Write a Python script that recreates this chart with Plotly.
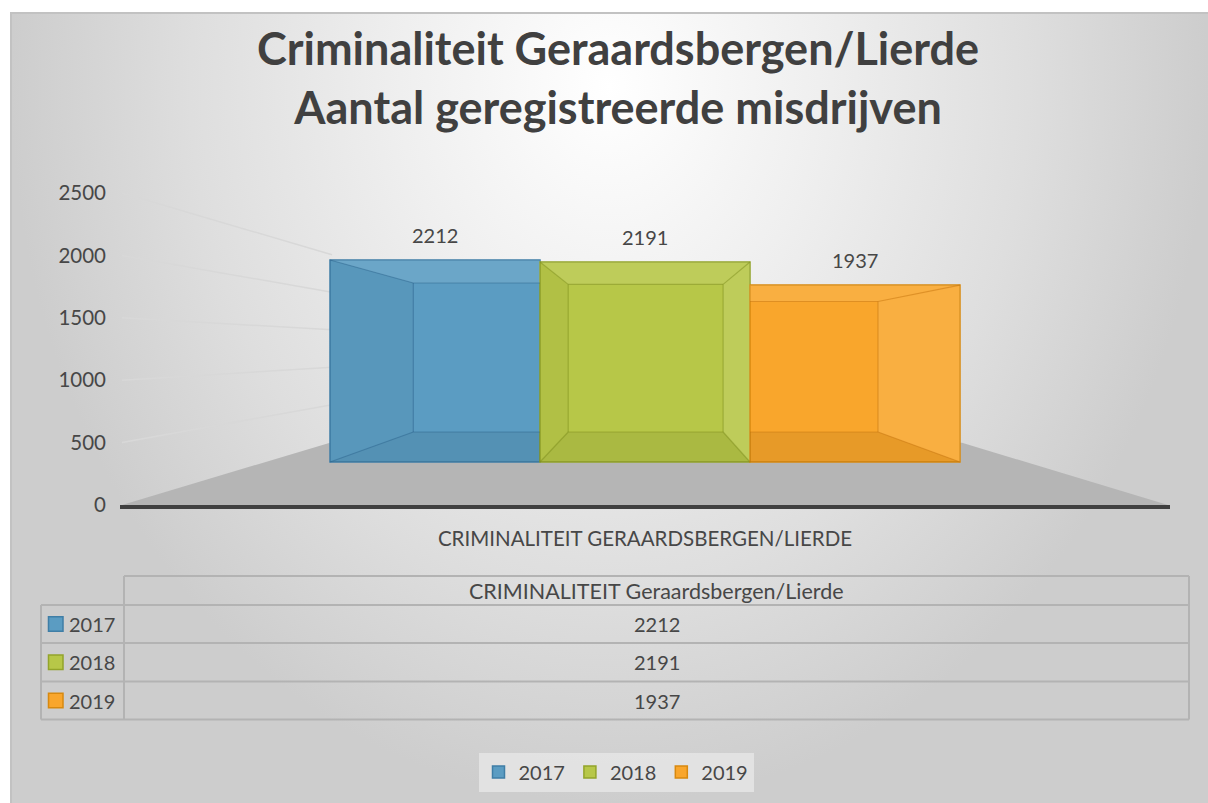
import plotly.graph_objects as go

# ---------------- data ----------------
categories = ["CRIMINALITEIT GERAARDSBERGEN/LIERDE"]
table_header = "CRIMINALITEIT Geraardsbergen/Lierde"
series_names = ["2017", "2018", "2019"]
values_2017 = [2212]
values_2018 = [2191]
values_2019 = [1937]
y_tick_values = [0, 500, 1000, 1500, 2000, 2500]
title_lines = ["Criminaliteit Geraardsbergen/Lierde", "Aantal geregistreerde misdrijven"]

series_values = [values_2017, values_2018, values_2019]

# ---------------- styles / layout constants ----------------
W, H = 1208, 803
FONT = "Lato"
TXT = "#474747"
fills = ["#5b9cc2", "#b7c748", "#f9a62c"]
edges = ["#3f7ea6", "#93a42a", "#d8890f"]
edge_rgb = [(40, 95, 135), (120, 135, 25), (190, 110, 10)]

PLOT_L, PLOT_R = 120, 1170          # plot area in pixels
PLOT_T, PLOT_B = 160, 505
TICK_PPU = (PLOT_B - 193) / 2500.0   # pixels per unit on the visible value axis
BAR_BASE_PX = 462.0                  # front face base of the 3-D columns
BAR_PPU = 0.09132                    # pixels per unit on the column front face
VP_X, VP_Y = 647.5, 347.6            # vanishing point
DEPTH = 0.7376                       # back/front scale of the columns
FLOOR_BACK_PX = 442.7
BARGAP = 0.4

def px_to_paper_x(px):
    return px / W

def px_to_paper_y(py):
    return 1 - py / H

fig = go.Figure()

# ---------- background subplot (pixel space) ----------
CH_L, CH_T = 11, 13
bg_top = -630
fig.add_trace(go.Scatter(
    x=[CH_L, W, W, CH_L, CH_L], y=[bg_top, bg_top, H, H, bg_top],
    mode="lines", fill="toself", line=dict(width=0),
    fillgradient=dict(type="radial",
                      colorscale=[[0, "#ffffff"], [0.35, "#efefef"], [0.7, "#dedede"],
                                  [1, "#cdcdcd"]]),
    xaxis="x", yaxis="y", hoverinfo="skip", showlegend=False))

def toward_vp(x0, y0, x_target=None, y_target=None):
    if x_target is not None:
        t = (x_target - x0) / (VP_X - x0)
    else:
        t = (y_target - y0) / (VP_Y - y0)
    return x0 + t * (VP_X - x0), y0 + t * (VP_Y - y0)

AX_L, AX_R = PLOT_L + 2, PLOT_R - 2
fl = toward_vp(AX_L, PLOT_B, y_target=FLOOR_BACK_PX)
fr = toward_vp(AX_R, PLOT_B, y_target=FLOOR_BACK_PX)
fig.add_trace(go.Scatter(
    x=[AX_L, fl[0], fr[0], AX_R, AX_L], y=[PLOT_B, fl[1], fr[1], PLOT_B, PLOT_B],
    mode="lines", fill="toself", fillcolor="#b5b5b5", line=dict(width=0),
    xaxis="x", yaxis="y", hoverinfo="skip", showlegend=False))

# perspective gridlines on the left wall
gx, gy = [], []
front_left_px = PLOT_L + (BARGAP / 2) * (PLOT_R - PLOT_L)
for v in y_tick_values[1:]:
    py = PLOT_B - v * TICK_PPU
    ex, ey = toward_vp(AX_L, py, x_target=front_left_px + 2)
    gx += [AX_L, ex, None]
    gy += [py, ey, None]
fig.add_trace(go.Scatter(x=gx, y=gy, mode="lines", line=dict(color="#d8d8d8", width=1.5),
                         xaxis="x", yaxis="y", hoverinfo="skip", showlegend=False))

# ---------- main chart ----------
# invisible helper so the visible value axis is drawn
fig.add_trace(go.Scatter(x=categories, y=[0], mode="markers", marker=dict(opacity=0),
                         xaxis="x2", yaxis="y2", hoverinfo="skip", showlegend=False))

for name, vals, fc, ec in zip(series_names, series_values, fills, edges):
    fig.add_trace(go.Bar(x=categories, y=vals, name=name, xaxis="x2", yaxis="y3",
                         marker=dict(color=fc, line=dict(color=ec, width=1.5)),
                         hovertemplate=name + ": %{y}<extra></extra>"))

shapes = []
annotations = []

VPU = (VP_X - PLOT_L) / (PLOT_R - PLOT_L) - 0.5
VY3 = (BAR_BASE_PX - VP_Y) / BAR_PPU
n = len(series_names)
bw = (1 - BARGAP) / n

def bx(u):
    return VPU + DEPTH * (u - VPU)

def by(v):
    return VY3 + DEPTH * (v - VY3)

def poly(pts, fill):
    d = "M " + " L ".join(f"{x},{y}" for x, y in pts) + " Z"
    return dict(type="path", path=d, xref="x2", yref="y3", fillcolor=fill,
                line=dict(width=0), layer="above")

def seg(p, q, color):
    return dict(type="line", x0=p[0], y0=p[1], x1=q[0], y1=q[1], xref="x2", yref="y3",
                line=dict(color=color, width=1.2), layer="above")

for i, vals in enumerate(series_values):
    v = vals[0]
    u0 = -0.5 + BARGAP / 2 + i * bw
    u1 = u0 + bw
    b0, b1 = bx(u0), bx(u1)
    c0, c1 = max(b0, u0), min(b1, u1)
    yb0, ybv = by(0), by(v)
    r, g, b = edge_rgb[i]
    lc = f"rgba({r},{g},{b},0.45)"
    shapes.append(poly([(u0, 0), (u1, 0), (c1, yb0), (c0, yb0)], "rgba(0,0,0,0.07)"))
    shapes.append(poly([(u0, v), (u1, v), (c1, ybv), (c0, ybv)], "rgba(255,255,255,0.10)"))
    if b0 >= u0:
        shapes.append(poly([(u0, 0), (u0, v), (b0, ybv), (b0, yb0)], "rgba(0,0,0,0.03)"))
        shapes.append(seg((u0, v), (b0, ybv), lc))
        shapes.append(seg((u0, 0), (b0, yb0), lc))
        shapes.append(seg((b0, ybv), (b0, yb0), lc))
    if b1 <= u1:
        shapes.append(poly([(u1, 0), (u1, v), (b1, ybv), (b1, yb0)], "rgba(255,255,255,0.10)"))
        shapes.append(seg((u1, v), (b1, ybv), lc))
        shapes.append(seg((u1, 0), (b1, yb0), lc))
        shapes.append(seg((b1, ybv), (b1, yb0), lc))
    shapes.append(seg((c0, ybv), (c1, ybv), lc))
    shapes.append(seg((c0, yb0), (c1, yb0), lc))
    annotations.append(dict(x=(u0 + u1) / 2, y=v, xref="x2", yref="y3", text=str(v),
                            showarrow=False, yshift=25, xanchor="center", yanchor="middle",
                            font=dict(family=FONT, size=20, color=TXT)))

# ---------- data table ----------
T_L, T_C, T_R = 41, 124, 1189
T_TOP = 576
rows_y = [605, 643, 681.5, 719.5]
tline = dict(color="#b3b3b3", width=2)

def pline(x0, y0, x1, y1):
    return dict(type="line", xref="paper", yref="paper",
                x0=px_to_paper_x(x0), y0=px_to_paper_y(y0),
                x1=px_to_paper_x(x1), y1=px_to_paper_y(y1), line=tline, layer="above")

shapes.append(pline(T_C, T_TOP, T_R, T_TOP))
for yy in rows_y:
    shapes.append(pline(T_L, yy, T_R, yy))
shapes.append(pline(T_L, rows_y[0], T_L, rows_y[-1]))
shapes.append(pline(T_C, T_TOP, T_C, rows_y[-1]))
shapes.append(pline(T_R, T_TOP, T_R, rows_y[-1]))

cell_cx = (T_C + T_R) / 2
annotations.append(dict(x=px_to_paper_x(cell_cx), y=px_to_paper_y((T_TOP + rows_y[0]) / 2),
                        xref="paper", yref="paper", text=table_header, showarrow=False,
                        xanchor="center", yanchor="middle",
                        font=dict(family=FONT, size=21.5, color=TXT)))
for k, (name, vals) in enumerate(zip(series_names, series_values)):
    cy = (rows_y[k] + rows_y[k + 1]) / 2
    annotations.append(dict(x=px_to_paper_x(cell_cx), y=px_to_paper_y(cy), xref="paper",
                            yref="paper", text=str(vals[0]), showarrow=False,
                            xanchor="center", yanchor="middle",
                            font=dict(family=FONT, size=20, color=TXT)))
    annotations.append(dict(x=px_to_paper_x(67), y=px_to_paper_y(cy), xref="paper",
                            yref="paper", text=name, showarrow=False, xanchor="left",
                            yanchor="middle", font=dict(family=FONT, size=20, color=TXT)))
    shapes.append(dict(type="rect", xref="paper", yref="paper",
                       x0=px_to_paper_x(48.5), x1=px_to_paper_x(63),
                       y0=px_to_paper_y(cy - 7.2), y1=px_to_paper_y(cy + 7.2),
                       fillcolor=fills[k], line=dict(color=edges[k], width=1.5), layer="above"))

# chart title
annotations.append(dict(x=px_to_paper_x(617.5), y=px_to_paper_y(78), xref="paper", yref="paper",
                        text="<br>".join(title_lines), showarrow=False, xanchor="center",
                        yanchor="middle", align="center",
                        font=dict(family=FONT, size=45, color="#404040", weight="bold")))

# chart border
shapes.append(dict(type="rect", xref="paper", yref="paper",
                   x0=px_to_paper_x(CH_L), y0=px_to_paper_y(CH_T), x1=1.01, y1=-0.01,
                   line=dict(color="#c2c2c2", width=2), fillcolor="rgba(0,0,0,0)", layer="above"))

fig.update_layout(
    width=W, height=H,
    margin=dict(l=0, r=0, t=0, b=0, autoexpand=False),
    paper_bgcolor="white", plot_bgcolor="rgba(0,0,0,0)",
    font=dict(family=FONT, color=TXT),
    barmode="group", bargap=BARGAP, bargroupgap=0,
    xaxis=dict(domain=[px_to_paper_x(CH_L), 1], range=[CH_L, W], visible=False,
               fixedrange=True, automargin=False),
    yaxis=dict(domain=[0, px_to_paper_y(CH_T)], range=[H, CH_T], visible=False,
               fixedrange=True, automargin=False),
    xaxis2=dict(domain=[px_to_paper_x(PLOT_L), px_to_paper_x(PLOT_R)], anchor="y2",
                type="category", range=[-0.5, 0.5], showline=True, linecolor="#404040",
                linewidth=3.5, ticks="", showgrid=False, zeroline=False,
                tickfont=dict(family=FONT, size=20.5, color=TXT), ticklabelstandoff=13,
                automargin=False, fixedrange=True),
    yaxis2=dict(domain=[px_to_paper_y(PLOT_B), px_to_paper_y(PLOT_T)], anchor="x2",
                range=[0, (PLOT_B - PLOT_T) / TICK_PPU], tickvals=y_tick_values,
                showgrid=False, zeroline=False, showline=False, ticks="",
                ticklabelstandoff=13, tickfont=dict(family=FONT, size=20.5, color=TXT),
                automargin=False, fixedrange=True),
    yaxis3=dict(overlaying="y2", anchor="x2",
                range=[-(PLOT_B - BAR_BASE_PX) / BAR_PPU, (BAR_BASE_PX - PLOT_T) / BAR_PPU],
                visible=False, fixedrange=True, automargin=False),
    legend=dict(orientation="h", x=px_to_paper_x(616), xanchor="center",
                y=px_to_paper_y(772), yanchor="middle", bgcolor="rgba(232,232,232,0.75)",
                font=dict(family=FONT, size=20, color=TXT), itemwidth=30,
                traceorder="normal"),
    shapes=shapes, annotations=annotations,
)

fig.write_html("out.html", config={"displayModeBar": False},
               post_script="document.body.style.margin='0px';")
